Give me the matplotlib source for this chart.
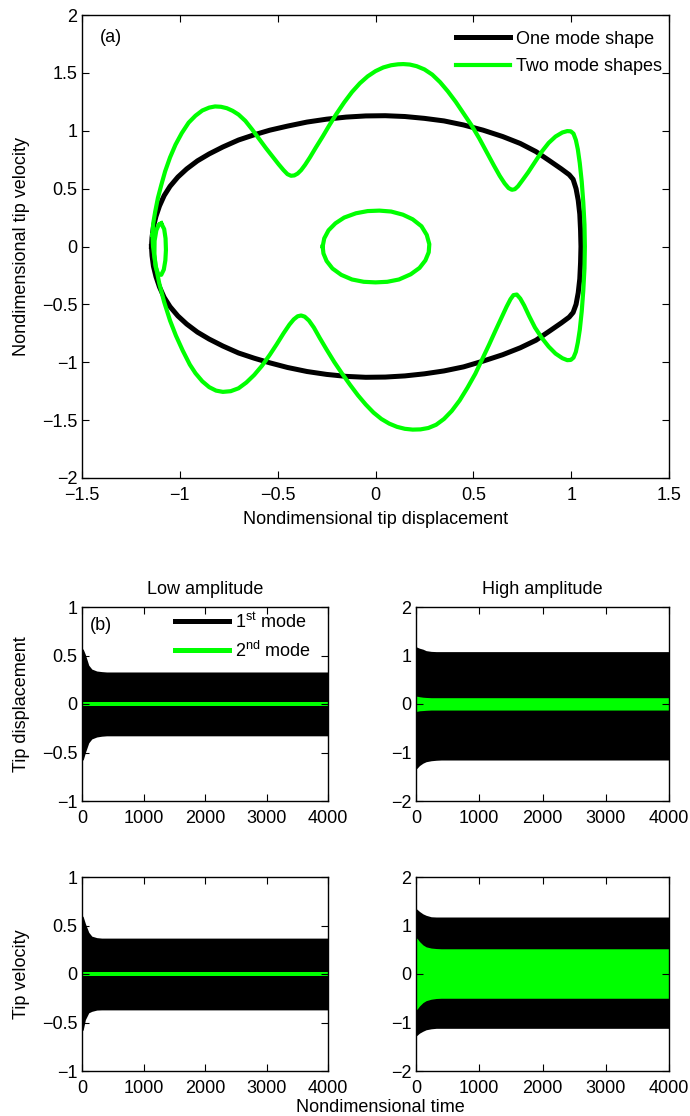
import matplotlib
matplotlib.use("Agg")
import matplotlib.pyplot as plt

plt.rcParams['font.family'] = ['Liberation Sans', 'DejaVu Sans']
plt.rcParams['mathtext.fontset'] = 'custom'
plt.rcParams['mathtext.rm'] = 'Liberation Sans'
plt.rcParams['mathtext.it'] = 'Liberation Sans'

GREEN = '#00ff00'

# ---------------- (a) phase portrait data ----------------
one_x = [-1.145, -1.142, -1.135, -1.122, -1.104, -1.08, -1.05, -1.01, -0.965, -0.91, -0.85, -0.78, -0.70, -0.62,
         -0.54, -0.45, -0.35, -0.25, -0.15, -0.05, 0.05, 0.15, 0.25, 0.35, 0.45, 0.55, 0.65, 0.74, 0.82, 0.89,
         0.95, 0.99, 1.01, 1.025, 1.036, 1.044, 1.048, 1.05,
         1.048, 1.044, 1.036, 1.025, 1.01, 0.99, 0.95, 0.89, 0.82, 0.74, 0.65, 0.55, 0.45, 0.35, 0.25, 0.15,
         0.05, -0.05, -0.15, -0.25, -0.35, -0.45, -0.54, -0.62, -0.70, -0.78, -0.85, -0.91, -0.965, -1.01,
         -1.05, -1.08, -1.104, -1.122, -1.135, -1.142, -1.145]
one_y = [0.0, 0.08, 0.17, 0.26, 0.35, 0.44, 0.52, 0.60, 0.67, 0.74, 0.80, 0.86, 0.92, 0.965,
         1.005, 1.04, 1.075, 1.10, 1.118, 1.128, 1.13, 1.123, 1.107, 1.085, 1.05, 1.005, 0.95, 0.89, 0.82, 0.74,
         0.67, 0.62, 0.58, 0.50, 0.40, 0.28, 0.14, 0.0,
         -0.14, -0.28, -0.40, -0.50, -0.57, -0.61, -0.66, -0.73, -0.81, -0.875, -0.935, -0.99, -1.04, -1.075, -1.10, -1.118,
         -1.128, -1.13, -1.122, -1.105, -1.08, -1.045, -1.005, -0.965, -0.92, -0.86, -0.80, -0.74, -0.67, -0.60,
         -0.52, -0.44, -0.35, -0.26, -0.17, -0.08, 0.0]

two_x = [-1.140, -1.136, -1.126, -1.112, -1.095, -1.075, -1.050, -1.022, -0.990, -0.955, -0.920, -0.885, -0.850,
         -0.820, -0.790, -0.760, -0.730,
         -0.700, -0.665, -0.630, -0.595, -0.560, -0.525, -0.495, -0.470, -0.450, -0.432, -0.415, -0.398,
         -0.380, -0.360, -0.335, -0.305, -0.270, -0.235, -0.200, -0.160, -0.120, -0.080, -0.040, 0.000, 0.040,
         0.080, 0.115, 0.142, 0.175, 0.210,
         0.250, 0.290, 0.330, 0.370, 0.410, 0.450, 0.490, 0.530, 0.570, 0.605, 0.635, 0.660, 0.680, 0.697,
         0.712, 0.728,
         0.750, 0.780, 0.815, 0.850, 0.885, 0.920, 0.955, 0.980, 0.998, 1.012,
         1.024, 1.034, 1.044, 1.054, 1.062, 1.068, 1.070, 1.068, 1.062, 1.054, 1.044, 1.034, 1.024, 1.012,
         0.998, 0.980,
         0.955, 0.920, 0.885, 0.850, 0.815, 0.785, 0.760, 0.740, 0.722, 0.705, 0.690,
         0.670, 0.645, 0.615, 0.580, 0.545, 0.510, 0.470, 0.430, 0.390, 0.350, 0.310, 0.270, 0.230, 0.190,
         0.150, 0.110,
         0.070, 0.030, -0.010, -0.050, -0.090, -0.130, -0.170, -0.210, -0.250, -0.285, -0.315, -0.340, -0.362,
         -0.380, -0.398, -0.418,
         -0.440, -0.470, -0.505, -0.540, -0.580, -0.620, -0.660, -0.700, -0.740, -0.780, -0.815, -0.850,
         -0.885, -0.920, -0.949, -0.985, -1.020, -1.050, -1.080, -1.105, -1.125, -1.137, -1.140]
two_y = [0.10, 0.20, 0.30, 0.42, 0.53, 0.65, 0.77, 0.88, 0.98, 1.07, 1.13, 1.175, 1.200,
         1.210, 1.207, 1.195, 1.172,
         1.140, 1.085, 1.010, 0.930, 0.850, 0.775, 0.710, 0.660, 0.625, 0.611, 0.614, 0.630,
         0.660, 0.705, 0.770, 0.855, 0.950, 1.050, 1.145, 1.245, 1.335, 1.410, 1.470, 1.515, 1.547,
         1.566, 1.574, 1.576, 1.572, 1.558,
         1.530, 1.485, 1.420, 1.340, 1.250, 1.150, 1.049, 0.935, 0.810, 0.700, 0.610, 0.545, 0.505, 0.490,
         0.495, 0.520,
         0.570, 0.640, 0.730, 0.820, 0.895, 0.950, 0.985, 0.997, 0.995, 0.975,
         0.920, 0.840, 0.720, 0.560, 0.380, 0.190, 0.000, -0.190, -0.380, -0.560, -0.720, -0.830, -0.910, -0.960,
         -0.980, -0.982,
         -0.965, -0.925, -0.865, -0.790, -0.700, -0.600, -0.510, -0.450, -0.415, -0.420, -0.455,
         -0.520, -0.610, -0.720, -0.850, -0.975, -1.100, -1.220, -1.330, -1.420, -1.490, -1.540, -1.568, -1.580, -1.582,
         -1.575, -1.558,
         -1.530, -1.490, -1.435, -1.365, -1.285, -1.195, -1.100, -1.000, -0.890, -0.790, -0.700, -0.640, -0.606,
         -0.596, -0.603, -0.630,
         -0.675, -0.750, -0.845, -0.935, -1.030, -1.110, -1.175, -1.225, -1.250, -1.256, -1.245, -1.215,
         -1.165, -1.095, -1.020, -0.900, -0.770, -0.640, -0.480, -0.320, -0.150, 0.000, 0.10]

loop_x = [-1.095, -1.080, -1.073, -1.071, -1.074, -1.082, -1.095, -1.110, -1.123, -1.130, -1.129, -1.120, -1.107, -1.095]
loop_y = [0.200, 0.150, 0.070, -0.030, -0.120, -0.200, -0.245, -0.240, -0.180, -0.070, 0.050, 0.140, 0.190, 0.200]

inner_x = [-0.270, -0.262, -0.240, -0.205, -0.160, -0.100, -0.040, 0.020, 0.080, 0.140, 0.190, 0.235, 0.262, 0.275,
           0.272, 0.255, 0.225, 0.180, 0.120, 0.060, 0.000, -0.060, -0.120, -0.175, -0.220, -0.250, -0.266, -0.270]
inner_y = [0.000, 0.070, 0.140, 0.200, 0.250, 0.287, 0.306, 0.310, 0.302, 0.275, 0.235, 0.175, 0.100, 0.020,
           -0.050, -0.120, -0.185, -0.240, -0.285, -0.305, -0.310, -0.305, -0.285, -0.245, -0.190, -0.125, -0.060, 0.000]

a_xticks = [-1.5, -1, -0.5, 0, 0.5, 1, 1.5]
a_xticklabels = ['\u22121.5', '\u22121', '\u22120.5', '0', '0.5', '1', '1.5']
a_yticks = [-2, -1.5, -1, -0.5, 0, 0.5, 1, 1.5, 2]
a_yticklabels = ['\u22122', '\u22121.5', '\u22121', '\u22120.5', '0', '0.5', '1', '1.5', '2']

# ---------------- (b) time-history envelopes ----------------
t_env = [0, 20, 55, 110, 160, 240, 320, 400, 4000]

ld_m1_up = [0.57, 0.565, 0.51, 0.40, 0.36, 0.34, 0.334, 0.33, 0.33]
ld_m1_lo = [-0.58, -0.575, -0.50, -0.40, -0.36, -0.34, -0.332, -0.328, -0.328]
ld_m2_up = [0.02, 0.02, 0.02, 0.02, 0.02, 0.02, 0.02, 0.02, 0.02]
ld_m2_lo = [-0.02, -0.02, -0.02, -0.02, -0.02, -0.02, -0.02, -0.02, -0.02]

hd_m1_up = [1.18, 1.17, 1.15, 1.13, 1.10, 1.085, 1.08, 1.08, 1.08]
hd_m1_lo = [-1.34, -1.32, -1.27, -1.22, -1.19, -1.17, -1.16, -1.155, -1.155]
hd_m2_up = [0.16, 0.16, 0.15, 0.14, 0.135, 0.13, 0.13, 0.13, 0.13]
hd_m2_lo = [-0.15, -0.15, -0.14, -0.135, -0.13, -0.125, -0.125, -0.125, -0.125]

lv_m1_up = [0.605, 0.59, 0.52, 0.43, 0.39, 0.375, 0.37, 0.37, 0.37]
lv_m1_lo = [-0.59, -0.575, -0.47, -0.40, -0.385, -0.372, -0.37, -0.37, -0.37]
lv_m2_up = [0.02, 0.02, 0.02, 0.02, 0.02, 0.02, 0.02, 0.02, 0.02]
lv_m2_lo = [-0.02, -0.02, -0.02, -0.02, -0.02, -0.02, -0.02, -0.02, -0.02]

hv_m1_up = [1.35, 1.33, 1.29, 1.24, 1.21, 1.18, 1.175, 1.175, 1.175]
hv_m1_lo = [-1.28, -1.26, -1.22, -1.18, -1.15, -1.13, -1.12, -1.12, -1.12]
hv_m2_up = [0.75, 0.73, 0.67, 0.60, 0.56, 0.535, 0.525, 0.52, 0.52]
hv_m2_lo = [-0.74, -0.72, -0.66, -0.59, -0.55, -0.52, -0.505, -0.50, -0.50]

b_xticks = [0, 1000, 2000, 3000, 4000]
low_yticks = [-1, -0.5, 0, 0.5, 1]
low_yticklabels = ['\u22121', '\u22120.5', '0', '0.5', '1']
high_yticks = [-2, -1, 0, 1, 2]
high_yticklabels = ['\u22122', '\u22121', '0', '1', '2']

FS = 13
W, H = 690, 1116
fig = plt.figure(figsize=(W / 100, H / 100), dpi=100)


def rect(l, t, r, b):
    return [l / W, 1 - b / H, (r - l) / W, (b - t) / H]


def style(ax):
    ax.tick_params(direction='in', top=True, right=True, length=5, width=0.8,
                   labelsize=FS)
    ax.tick_params(axis='x', pad=6.5)
    ax.tick_params(axis='y', pad=3.5)
    for s in ax.spines.values():
        s.set_linewidth(1.0)


# ----- top panel -----
ax = fig.add_axes(rect(82, 15, 669, 478))
ax.plot(one_x, one_y, color='k', lw=3.6, solid_joinstyle='round', label='One mode shape')
ax.plot(two_x, two_y, color=GREEN, lw=3.0, solid_joinstyle='round', label='Two mode shapes')
ax.plot(loop_x, loop_y, color=GREEN, lw=3.0, solid_joinstyle='round')
ax.plot(inner_x, inner_y, color=GREEN, lw=3.0, solid_joinstyle='round')
ax.set_xlim(-1.5, 1.5)
ax.set_ylim(-2, 2)
ax.set_xticks(a_xticks)
ax.set_xticklabels(a_xticklabels)
ax.set_yticks(a_yticks)
ax.set_yticklabels(a_yticklabels)
style(ax)
ax.text(0.030, 0.951, '(a)', transform=ax.transAxes, fontsize=FS, va='center', ha='left')
ax.legend(loc='upper left', bbox_to_anchor=(0.637, 0.966), frameon=False, fontsize=FS,
          handlelength=3.0, handletextpad=0.35, borderpad=0, borderaxespad=0, labelspacing=0.59)
fig.text(22 / W, 1 - 246.5 / H, 'Nondimensional tip velocity', rotation=90, ha='center', va='center', fontsize=FS)
fig.text(375.5 / W, 1 - 519 / H, 'Nondimensional tip displacement', ha='center', va='center', fontsize=FS)

# ----- bottom panels -----
cols = [(82, 328), (416, 669)]
rows = [(607, 801), (877, 1071)]
panels = [
    (0, 0, ld_m1_up, ld_m1_lo, ld_m2_up, ld_m2_lo, 1),
    (0, 1, hd_m1_up, hd_m1_lo, hd_m2_up, hd_m2_lo, 2),
    (1, 0, lv_m1_up, lv_m1_lo, lv_m2_up, lv_m2_lo, 1),
    (1, 1, hv_m1_up, hv_m1_lo, hv_m2_up, hv_m2_lo, 2),
]
axes = {}
for r, c, u1, l1, u2, l2, lim in panels:
    l, rr = cols[c]
    t, b = rows[r]
    a = fig.add_axes(rect(l, t, rr, b))
    a.fill_between(t_env, l1, u1, color='k', lw=0)
    a.fill_between(t_env, l2, u2, color=GREEN, lw=0)
    a.set_xlim(0, 4000)
    a.set_ylim(-lim, lim)
    a.set_xticks(b_xticks)
    a.set_xticklabels([str(v) for v in b_xticks])
    if lim == 1:
        a.set_yticks(low_yticks)
        a.set_yticklabels(low_yticklabels)
    else:
        a.set_yticks(high_yticks)
        a.set_yticklabels(high_yticklabels)
    style(a)
    axes[(r, c)] = a

axes[(0, 0)].set_title('Low amplitude', fontsize=FS, pad=9)
axes[(0, 1)].set_title('High amplitude', fontsize=FS, pad=9)
axes[(0, 0)].text(0.030, 0.907, '(b)', transform=axes[(0, 0)].transAxes, fontsize=FS, va='center', ha='left')
h1, = axes[(0, 0)].plot([], [], color='k', lw=3.6)
h2, = axes[(0, 0)].plot([], [], color=GREEN, lw=3.6)
axes[(0, 0)].legend([h1, h2], ['1$^{\\rm st}$ mode', '2$^{\\rm nd}$ mode'], loc='upper left',
                    bbox_to_anchor=(0.378, 0.975), frameon=False, fontsize=FS, handlelength=3.0,
                    handletextpad=0.35, borderpad=0, borderaxespad=0, labelspacing=0.5)
fig.text(22 / W, 1 - 704 / H, 'Tip displacement', rotation=90, ha='center', va='center', fontsize=FS)
fig.text(22 / W, 1 - 974 / H, 'Tip velocity', rotation=90, ha='center', va='center', fontsize=FS)
fig.text(380 / W, 1 - 1107 / H, 'Nondimensional time', ha='center', va='center', fontsize=FS)

fig.savefig('out.png', dpi=100)
